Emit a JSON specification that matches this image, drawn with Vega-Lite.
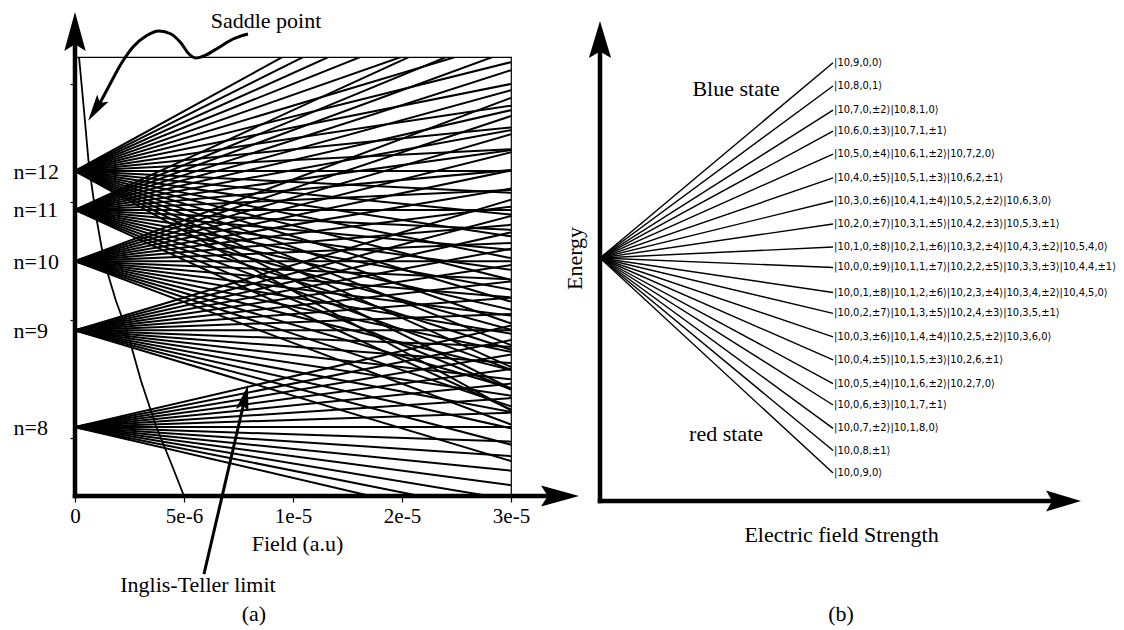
{
  "$schema": "https://vega.github.io/schema/vega-lite/v6.json",
  "padding": {"left": 12, "top": 9, "right": 5, "bottom": 4},
  "background": "white",
  "bounds": "flush",
  "spacing": 89,
  "config": {
    "view": {"stroke": null},
    "axis": {"labelColor": "black", "titleColor": "black", "tickColor": "black", "labelFont": "Liberation Serif", "titleFont": "Liberation Serif", "titleFontWeight": "normal", "grid": false}
  },
  "datasets": {
    "stark": [
      {"n":8,"k":-7,"e0":-7.8125,"e1":-9.5345},{"n":8,"k":-6,"e0":-7.8125,"e1":-9.2885},{"n":8,"k":-5,"e0":-7.8125,"e1":-9.0425},{"n":8,"k":-4,"e0":-7.8125,"e1":-8.7965},{"n":8,"k":-3,"e0":-7.8125,"e1":-8.5505},{"n":8,"k":-2,"e0":-7.8125,"e1":-8.3045},{"n":8,"k":-1,"e0":-7.8125,"e1":-8.0585},{"n":8,"k":0,"e0":-7.8125,"e1":-7.8125},{"n":8,"k":1,"e0":-7.8125,"e1":-7.5665},{"n":8,"k":2,"e0":-7.8125,"e1":-7.3205},{"n":8,"k":3,"e0":-7.8125,"e1":-7.0745},{"n":8,"k":4,"e0":-7.8125,"e1":-6.8285},{"n":8,"k":5,"e0":-7.8125,"e1":-6.5825},{"n":8,"k":6,"e0":-7.8125,"e1":-6.3365},{"n":8,"k":7,"e0":-7.8125,"e1":-6.0905},
      {"n":9,"k":-8,"e0":-6.1728,"e1":-8.3868},{"n":9,"k":-7,"e0":-6.1728,"e1":-8.11},{"n":9,"k":-6,"e0":-6.1728,"e1":-7.8333},{"n":9,"k":-5,"e0":-6.1728,"e1":-7.5566},{"n":9,"k":-4,"e0":-6.1728,"e1":-7.2798},{"n":9,"k":-3,"e0":-6.1728,"e1":-7.0031},{"n":9,"k":-2,"e0":-6.1728,"e1":-6.7263},{"n":9,"k":-1,"e0":-6.1728,"e1":-6.4496},{"n":9,"k":0,"e0":-6.1728,"e1":-6.1728},{"n":9,"k":1,"e0":-6.1728,"e1":-5.8961},{"n":9,"k":2,"e0":-6.1728,"e1":-5.6193},{"n":9,"k":3,"e0":-6.1728,"e1":-5.3426},{"n":9,"k":4,"e0":-6.1728,"e1":-5.0658},{"n":9,"k":5,"e0":-6.1728,"e1":-4.7891},{"n":9,"k":6,"e0":-6.1728,"e1":-4.5123},{"n":9,"k":7,"e0":-6.1728,"e1":-4.2356},{"n":9,"k":8,"e0":-6.1728,"e1":-3.9588},
      {"n":10,"k":-9,"e0":-5.0,"e1":-7.7675},{"n":10,"k":-8,"e0":-5.0,"e1":-7.46},{"n":10,"k":-7,"e0":-5.0,"e1":-7.1525},{"n":10,"k":-6,"e0":-5.0,"e1":-6.845},{"n":10,"k":-5,"e0":-5.0,"e1":-6.5375},{"n":10,"k":-4,"e0":-5.0,"e1":-6.23},{"n":10,"k":-3,"e0":-5.0,"e1":-5.9225},{"n":10,"k":-2,"e0":-5.0,"e1":-5.615},{"n":10,"k":-1,"e0":-5.0,"e1":-5.3075},{"n":10,"k":0,"e0":-5.0,"e1":-5.0},{"n":10,"k":1,"e0":-5.0,"e1":-4.6925},{"n":10,"k":2,"e0":-5.0,"e1":-4.385},{"n":10,"k":3,"e0":-5.0,"e1":-4.0775},{"n":10,"k":4,"e0":-5.0,"e1":-3.77},{"n":10,"k":5,"e0":-5.0,"e1":-3.4625},{"n":10,"k":6,"e0":-5.0,"e1":-3.155},{"n":10,"k":7,"e0":-5.0,"e1":-2.8475},{"n":10,"k":8,"e0":-5.0,"e1":-2.54},{"n":10,"k":9,"e0":-5.0,"e1":-2.2325},
      {"n":11,"k":-10,"e0":-4.1322,"e1":-7.5147},{"n":11,"k":-9,"e0":-4.1322,"e1":-7.1765},{"n":11,"k":-8,"e0":-4.1322,"e1":-6.8382},{"n":11,"k":-7,"e0":-4.1322,"e1":-6.5},{"n":11,"k":-6,"e0":-4.1322,"e1":-6.1617},{"n":11,"k":-5,"e0":-4.1322,"e1":-5.8235},{"n":11,"k":-4,"e0":-4.1322,"e1":-5.4852},{"n":11,"k":-3,"e0":-4.1322,"e1":-5.147},{"n":11,"k":-2,"e0":-4.1322,"e1":-4.8087},{"n":11,"k":-1,"e0":-4.1322,"e1":-4.4705},{"n":11,"k":0,"e0":-4.1322,"e1":-4.1322},{"n":11,"k":1,"e0":-4.1322,"e1":-3.794},{"n":11,"k":2,"e0":-4.1322,"e1":-3.4557},{"n":11,"k":3,"e0":-4.1322,"e1":-3.1175},{"n":11,"k":4,"e0":-4.1322,"e1":-2.7792},{"n":11,"k":5,"e0":-4.1322,"e1":-2.441},{"n":11,"k":6,"e0":-4.1322,"e1":-2.1027},{"n":11,"k":7,"e0":-4.1322,"e1":-1.7645},{"n":11,"k":8,"e0":-4.1322,"e1":-1.4262},{"n":11,"k":9,"e0":-4.1322,"e1":-1.088},{"n":11,"k":10,"e0":-4.1322,"e1":-0.7497},
      {"n":12,"k":-11,"e0":-3.4722,"e1":-7.5312},{"n":12,"k":-10,"e0":-3.4722,"e1":-7.1622},{"n":12,"k":-9,"e0":-3.4722,"e1":-6.7932},{"n":12,"k":-8,"e0":-3.4722,"e1":-6.4242},{"n":12,"k":-7,"e0":-3.4722,"e1":-6.0552},{"n":12,"k":-6,"e0":-3.4722,"e1":-5.6862},{"n":12,"k":-5,"e0":-3.4722,"e1":-5.3172},{"n":12,"k":-4,"e0":-3.4722,"e1":-4.9482},{"n":12,"k":-3,"e0":-3.4722,"e1":-4.5792},{"n":12,"k":-2,"e0":-3.4722,"e1":-4.2102},{"n":12,"k":-1,"e0":-3.4722,"e1":-3.8412},{"n":12,"k":0,"e0":-3.4722,"e1":-3.4722},{"n":12,"k":1,"e0":-3.4722,"e1":-3.1032},{"n":12,"k":2,"e0":-3.4722,"e1":-2.7342},{"n":12,"k":3,"e0":-3.4722,"e1":-2.3652},{"n":12,"k":4,"e0":-3.4722,"e1":-1.9962},{"n":12,"k":5,"e0":-3.4722,"e1":-1.6272},{"n":12,"k":6,"e0":-3.4722,"e1":-1.2582},{"n":12,"k":7,"e0":-3.4722,"e1":-0.8892},{"n":12,"k":8,"e0":-3.4722,"e1":-0.5202},{"n":12,"k":9,"e0":-3.4722,"e1":-0.1512},{"n":12,"k":10,"e0":-3.4722,"e1":0.2178},{"n":12,"k":11,"e0":-3.4722,"e1":0.5868}
    ],
    "inglisTeller": [
      {"x":0.037,"e":-1.54},{"x":0.083,"e":-2.455},{"x":0.128,"e":-3.387},{"x":0.193,"e":-4.235},{"x":0.266,"e":-4.997},{"x":0.376,"e":-5.675},{"x":0.477,"e":-6.184},{"x":0.606,"e":-7.031},{"x":0.743,"e":-7.794},{"x":0.881,"e":-8.421},{"x":1.0,"e":-8.98}
    ],
    "saddleArrow": [
      {"i":0,"x":1.587,"e":-1.150},{"i":1,"x":1.450,"e":-1.235},{"i":2,"x":1.312,"e":-1.387},{"i":3,"x":1.202,"e":-1.506},{"i":4,"x":1.110,"e":-1.557},{"i":5,"x":1.046,"e":-1.489},{"i":6,"x":0.972,"e":-1.303},{"i":7,"x":0.881,"e":-1.150},{"i":8,"x":0.771,"e":-1.099},{"i":9,"x":0.651,"e":-1.184},{"i":10,"x":0.532,"e":-1.370},{"i":11,"x":0.422,"e":-1.659},{"i":12,"x":0.312,"e":-2.031},{"i":13,"x":0.211,"e":-2.370},{"i":14,"x":0.175,"e":-2.46}
    ],
    "itArrow": [
      {"x":1.183,"e":-10.303},{"x":1.560,"e":-7.319}
    ],
    "states": [
      {"label":"|10,9,0,0⟩","e":8.49},
      {"label":"|10,8,0,1⟩","e":7.48},
      {"label":"|10,7,0,±2⟩|10,8,1,0⟩","e":6.43},
      {"label":"|10,6,0,±3⟩|10,7,1,±1⟩","e":5.52},
      {"label":"|10,5,0,±4⟩|10,6,1,±2⟩|10,7,2,0⟩","e":4.52},
      {"label":"|10,4,0,±5⟩|10,5,1,±3⟩|10,6,2,±1⟩","e":3.48},
      {"label":"|10,3,0,±6⟩|10,4,1,±4⟩|10,5,2,±2⟩|10,6,3,0⟩","e":2.48},
      {"label":"|10,2,0,±7⟩|10,3,1,±5⟩|10,4,2,±3⟩|10,5,3,±1⟩","e":1.48},
      {"label":"|10,1,0,±8⟩|10,2,1,±6⟩|10,3,2,±4⟩|10,4,3,±2⟩|10,5,4,0⟩","e":0.48},
      {"label":"|10,0,0,±9⟩|10,1,1,±7⟩|10,2,2,±5⟩|10,3,3,±3⟩|10,4,4,±1⟩","e":-0.41},
      {"label":"|10,0,1,±8⟩|10,1,2,±6⟩|10,2,3,±4⟩|10,3,4,±2⟩|10,4,5,0⟩","e":-1.5},
      {"label":"|10,0,2,±7⟩|10,1,3,±5⟩|10,2,4,±3⟩|10,3,5,±1⟩","e":-2.41},
      {"label":"|10,0,3,±6⟩|10,1,4,±4⟩|10,2,5,±2⟩|10,3,6,0⟩","e":-3.43},
      {"label":"|10,0,4,±5⟩|10,1,5,±3⟩|10,2,6,±1⟩","e":-4.43},
      {"label":"|10,0,5,±4⟩|10,1,6,±2⟩|10,2,7,0⟩","e":-5.46},
      {"label":"|10,0,6,±3⟩|10,1,7,±1⟩","e":-6.39},
      {"label":"|10,0,7,±2⟩|10,1,8,0⟩","e":-7.41},
      {"label":"|10,0,8,±1⟩","e":-8.37},
      {"label":"|10,0,9,0⟩","e":-9.35}
    ]
  },
  "hconcat": [
    {
      "width": 436,
      "height": 439,
      "view": {"stroke": "black", "strokeWidth": 1.2},
      "layer": [
        {
          "data": {"name": "stark"},
          "mark": {"type": "rule", "clip": true, "color": "black", "strokeWidth": 2},
          "encoding": {
            "x": {"datum": 0, "type": "quantitative", "scale": {"domain": [0, 4], "nice": false, "zero": false},
              "axis": {"values": [0, 1, 2, 3, 4], "labelExpr": "datum.value==0?'0':datum.value==1?'5e-6':datum.value==2?'1e-5':datum.value==3?'2e-5':'3e-5'", "domain": false, "tickSize": 6, "tickWidth": 1.2, "labelFontSize": 21, "labelPadding": 3, "labelFlush": false, "labelOverlap": false, "labelBound": false, "title": "Field (a.u)", "titleFontSize": 22, "titleX": 222, "titleY": 47, "titleBaseline": "middle", "titleAlign": "center"}},
            "x2": {"datum": 4},
            "y": {"field": "e0", "type": "quantitative", "scale": {"domain": [-8.98, -1.54], "nice": false, "zero": false},
              "axis": {"values": [-7.8125, -6.1728, -5, -4.1322, -3.4722, -8, -6, -4, -2], "labelExpr": "datum.value==-7.8125?'n=8':datum.value==-6.1728?'n=9':datum.value==-5?'n=10':datum.value==-4.1322?'n=11':datum.value==-3.4722?'n=12':''", "tickOpacity": {"condition": {"test": "datum.value % 2 == 0", "value": 1}, "value": 0}, "tickSize": 5, "tickWidth": 1.2, "domain": false, "labelFontSize": 22, "labelAlign": "left", "labelPadding": 57, "labelOverlap": false, "labelFlush": false, "labelBound": false, "title": null}},
            "y2": {"field": "e1"}
          }
        },
        {
          "data": {"name": "inglisTeller"},
          "mark": {"type": "line", "color": "black", "strokeWidth": 1.8},
          "encoding": {"x": {"field": "x", "type": "quantitative"}, "y": {"field": "e", "type": "quantitative"}}
        },
        {
          "data": {"name": "saddleArrow"},
          "mark": {"type": "line", "color": "black", "strokeWidth": 3, "interpolate": "monotone"},
          "encoding": {"x": {"field": "x", "type": "quantitative"}, "y": {"field": "e", "type": "quantitative"}, "order": {"field": "i", "type": "quantitative"}}
        },
        {
          "data": {"name": "itArrow"},
          "mark": {"type": "line", "color": "black", "strokeWidth": 3},
          "encoding": {"x": {"field": "x", "type": "quantitative"}, "y": {"field": "e", "type": "quantitative"}}
        },
        {
          "data": {"values": [{}]},
          "mark": {"type": "rule", "color": "black", "strokeWidth": 4.5, "strokeCap": "square"},
          "encoding": {"x": {"datum": 0, "type": "quantitative"}, "y": {"datum": -8.98, "type": "quantitative"}, "y2": {"datum": -1.3}}
        },
        {
          "data": {"values": [{}]},
          "mark": {"type": "rule", "color": "black", "strokeWidth": 4.5, "strokeCap": "square"},
          "encoding": {"x": {"datum": 0, "type": "quantitative"}, "x2": {"datum": 4.4}, "y": {"datum": -8.98, "type": "quantitative"}}
        },
        {
          "data": {"values": [{}]},
          "mark": {"type": "point", "filled": true, "color": "black", "opacity": 1, "shape": "M0,-1L0.55,1L0,0.65L-0.55,1Z", "size": 1521, "angle": 0},
          "encoding": {"x": {"datum": 0, "type": "quantitative"}, "y": {"datum": -1.108, "type": "quantitative"}}
        },
        {
          "data": {"values": [{}]},
          "mark": {"type": "point", "filled": true, "color": "black", "opacity": 1, "shape": "M0,-1L0.55,1L0,0.65L-0.55,1Z", "size": 1444, "angle": 90},
          "encoding": {"x": {"datum": 4.45, "type": "quantitative"}, "y": {"datum": -8.98, "type": "quantitative"}}
        },
        {
          "data": {"values": [{}]},
          "mark": {"type": "point", "filled": true, "color": "black", "opacity": 1, "shape": "M0,-1L0.5,1L0,0.6L-0.5,1Z", "size": 729, "angle": 213},
          "encoding": {"x": {"datum": 0.188, "type": "quantitative"}, "y": {"datum": -2.43, "type": "quantitative"}}
        },
        {
          "data": {"values": [{}]},
          "mark": {"type": "point", "filled": true, "color": "black", "opacity": 1, "shape": "M0,-1L0.5,1L0,0.6L-0.5,1Z", "size": 676, "angle": 13},
          "encoding": {"x": {"datum": 1.56, "type": "quantitative"}, "y": {"datum": -7.314, "type": "quantitative"}}
        },
        {
          "data": {"values": [{}]},
          "mark": {"type": "text", "text": "Saddle point", "font": "Liberation Serif", "fontSize": 22, "color": "black", "align": "center", "baseline": "middle"},
          "encoding": {"x": {"datum": 1.752, "type": "quantitative"}, "y": {"datum": -0.93, "type": "quantitative"}}
        },
        {
          "data": {"values": [{}]},
          "mark": {"type": "text", "text": "Inglis-Teller limit", "font": "Liberation Serif", "fontSize": 22, "color": "black", "align": "center", "baseline": "middle"},
          "encoding": {"x": {"datum": 1.128, "type": "quantitative"}, "y": {"datum": -10.48, "type": "quantitative"}}
        },
        {
          "data": {"values": [{}]},
          "mark": {"type": "text", "text": "(a)", "font": "Liberation Serif", "fontSize": 22, "color": "black", "align": "center", "baseline": "middle"},
          "encoding": {"x": {"datum": 1.642, "type": "quantitative"}, "y": {"datum": -10.98, "type": "quantitative"}}
        }
      ]
    },
    {
      "width": 481,
      "height": 444,
      "layer": [
        {
          "data": {"name": "states"},
          "mark": {"type": "rule", "color": "black", "strokeWidth": 1.4},
          "encoding": {
            "x": {"datum": 1, "type": "quantitative", "scale": {"domain": [0, 2.064], "nice": false, "zero": false},
              "axis": {"labels": false, "ticks": false, "domain": false, "title": "Electric field Strength", "titleFontSize": 22, "titleX": 241, "titleY": 33, "titleBaseline": "middle", "titleAlign": "center"}},
            "x2": {"datum": 0},
            "y": {"field": "e", "type": "quantitative", "scale": {"domain": [-10.565, 8.739], "nice": false, "zero": false},
              "axis": {"labels": false, "ticks": false, "domain": false, "title": "Energy", "titleFontSize": 22, "titleX": -26, "titleY": 201, "titleAngle": -90, "titleBaseline": "middle", "titleAlign": "center"}},
            "y2": {"datum": 0}
          }
        },
        {
          "data": {"name": "states"},
          "mark": {"type": "text", "align": "left", "baseline": "middle", "dx": 1, "font": "DejaVu Sans Condensed, DejaVu Sans", "fontSize": 11, "color": "black"},
          "encoding": {"x": {"datum": 1, "type": "quantitative"}, "y": {"field": "e", "type": "quantitative"}, "text": {"field": "label"}}
        },
        {
          "data": {"values": [{}]},
          "mark": {"type": "rule", "color": "black", "strokeWidth": 4.5, "strokeCap": "square"},
          "encoding": {"x": {"datum": 0, "type": "quantitative"}, "y": {"datum": -10.565, "type": "quantitative"}, "y2": {"datum": 9.0}}
        },
        {
          "data": {"values": [{}]},
          "mark": {"type": "rule", "color": "black", "strokeWidth": 4.5, "strokeCap": "square"},
          "encoding": {"x": {"datum": 0, "type": "quantitative"}, "x2": {"datum": 1.95}, "y": {"datum": -10.565, "type": "quantitative"}}
        },
        {
          "data": {"values": [{}]},
          "mark": {"type": "point", "filled": true, "color": "black", "opacity": 1, "shape": "M0,-1L0.6,1L0,0.65L-0.6,1Z", "size": 1369, "angle": 0},
          "encoding": {"x": {"datum": 0, "type": "quantitative"}, "y": {"datum": 9.5, "type": "quantitative"}}
        },
        {
          "data": {"values": [{}]},
          "mark": {"type": "point", "filled": true, "color": "black", "opacity": 1, "shape": "M0,-1L0.6,1L0,0.65L-0.6,1Z", "size": 1225, "angle": 90},
          "encoding": {"x": {"datum": 1.989, "type": "quantitative"}, "y": {"datum": -10.565, "type": "quantitative"}}
        },
        {
          "data": {"values": [{}]},
          "mark": {"type": "text", "text": "Blue state", "font": "Liberation Serif", "fontSize": 22, "color": "black", "align": "center", "baseline": "middle"},
          "encoding": {"x": {"datum": 0.584, "type": "quantitative"}, "y": {"datum": 7.348, "type": "quantitative"}}
        },
        {
          "data": {"values": [{}]},
          "mark": {"type": "text", "text": "red state", "font": "Liberation Serif", "fontSize": 22, "color": "black", "align": "center", "baseline": "middle"},
          "encoding": {"x": {"datum": 0.541, "type": "quantitative"}, "y": {"datum": -7.652, "type": "quantitative"}}
        },
        {
          "data": {"values": [{}]},
          "mark": {"type": "text", "text": "(b)", "font": "Liberation Serif", "fontSize": 22, "color": "black", "align": "center", "baseline": "middle"},
          "encoding": {"x": {"datum": 1.034, "type": "quantitative"}, "y": {"datum": -15.478, "type": "quantitative"}}
        }
      ]
    }
  ]
}
